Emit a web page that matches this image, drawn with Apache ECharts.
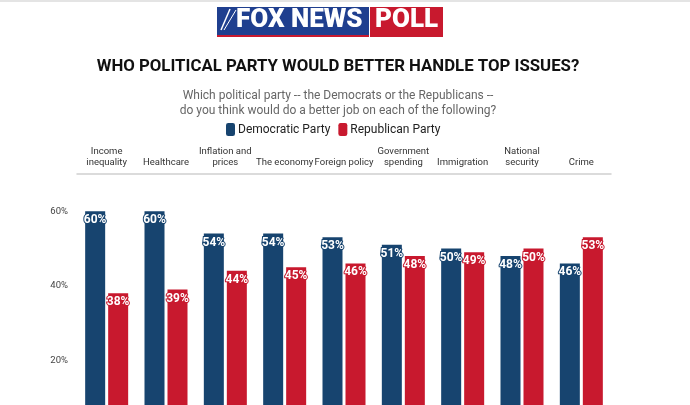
<!DOCTYPE html>
<html>
<head>
<meta charset="utf-8">
<script src="https://cdn.jsdelivr.net/npm/echarts@6/dist/echarts.min.js"></script>
<style>
  html, body { margin: 0; padding: 0; background: #fff; }
  #chart { width: 690px; height: 405px; }
</style>
</head>
<body>
<div id="chart"></div>
<script>
var issues = ['Income\ninequality', 'Healthcare', 'Inflation and\nprices', 'The economy', 'Foreign policy',
  'Government\nspending', 'Immigration', 'National\nsecurity', 'Crime'];
var democratic = [60, 60, 54, 54, 53, 51, 50, 48, 46];
var republican = [38, 39, 44, 45, 46, 48, 49, 50, 53];
var yTicks = [20, 40, 60];

var demColor = '#17446f';
var repColor = '#c8192e';

function barLabel(color) {
  return {
    show: true,
    position: 'insideTop',
    distance: 3,
    formatter: '{c}%',
    color: '#fff',
    fontFamily: 'Roboto',
    fontWeight: 'bold',
    fontSize: 12,
    textBorderColor: color,
    textBorderWidth: 2
  };
}

var chart = echarts.init(document.getElementById('chart'));
chart.setOption({
  animation: false,
  textStyle: { fontFamily: 'Roboto' },
  graphic: [
    // top border line
    { type: 'rect', shape: { x: 0, y: 0, width: 690, height: 2 }, style: { fill: '#e4e4e4' } },
    // logo
    { type: 'rect', shape: { x: 217, y: 7, width: 152, height: 28 }, style: { fill: '#1f3f8f' } },
    { type: 'rect', shape: { x: 217, y: 35, width: 152, height: 2 }, style: { fill: repColor } },
    { type: 'rect', shape: { x: 370, y: 7, width: 73, height: 30 }, style: { fill: repColor } },
    { type: 'text', left: 236, top: 7, style: { text: 'FOX NEWS', fill: '#fff', font: '900 26px Roboto' } },
    { type: 'text', left: 375, top: 7, style: { text: 'POLL', fill: '#fff', font: '900 26px Roboto' } },
    { type: 'line', shape: { x1: 221, y1: 30, x2: 230, y2: 9 }, style: { stroke: '#fff', lineWidth: 1.5 } },
    { type: 'line', shape: { x1: 224, y1: 30, x2: 236, y2: 10 }, style: { stroke: '#fff', lineWidth: 1 } }
  ],
  title: [
    {
      text: 'WHO POLITICAL PARTY WOULD BETTER HANDLE TOP ISSUES?',
      left: 333, top: 53, textAlign: 'center',
      textStyle: { fontSize: 16.8, fontWeight: 'bold', color: '#111', fontFamily: 'Roboto' }
    },
    {
      text: 'Which political party -- the Democrats or the Republicans --\ndo you think would do a better job on each of the following?',
      left: 333, top: 83, textAlign: 'center',
      textStyle: { fontSize: 12, fontWeight: 'normal', color: '#666', lineHeight: 15, fontFamily: 'Roboto' }
    }
  ],
  legend: {
    top: 118,
    left: 221,
    itemWidth: 9, itemHeight: 13, itemGap: 8,
    icon: 'roundRect',
    textStyle: { fontSize: 12, color: '#222', padding: [0, 0, 0, -2] },
    data: ['Democratic Party', 'Republican Party']
  },
  grid: { left: 77, right: 79, top: 174, bottom: 0 },
  xAxis: {
    type: 'category',
    position: 'top',
    data: issues,
    axisLine: { lineStyle: { color: '#d0d0d0', width: 1.5 } },
    axisTick: { alignWithLabel: true, length: 5, lineStyle: { color: '#d8d8d8' } },
    axisLabel: { fontSize: 9.5, color: '#333', lineHeight: 11, margin: 6, interval: 0 }
  },
  yAxis: {
    type: 'value',
    // the reference is cropped: the bottom edge sits near 8%
    min: 8, max: 70, interval: 2,
    splitLine: { show: false },
    axisLine: { show: false },
    axisTick: { show: false },
    axisLabel: {
      fontSize: 9.5, color: '#444', margin: 9,
      formatter: function (v) { return yTicks.indexOf(v) >= 0 ? v + '%' : ''; }
    }
  },
  series: [
    {
      name: 'Democratic Party', type: 'bar', data: democratic,
      barWidth: 20, barGap: '15%',
      itemStyle: { color: demColor },
      label: barLabel(demColor)
    },
    {
      name: 'Republican Party', type: 'bar', data: republican,
      barWidth: 20,
      itemStyle: { color: repColor },
      label: barLabel(repColor)
    }
  ]
});
</script>
</body>
</html>
